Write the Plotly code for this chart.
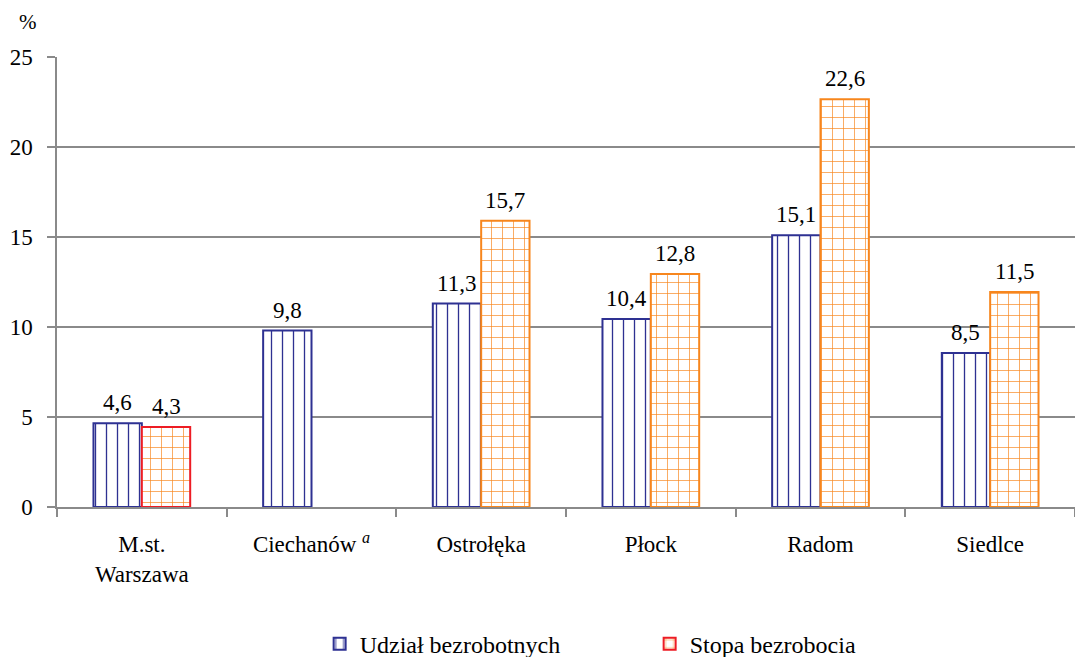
import plotly.graph_objects as go

categories = ["M.st.<br>Warszawa", "Ciechanów <sup><i>a</i></sup>", "Ostrołęka", "Płock", "Radom", "Siedlce"]
udzial_heights = [4.65, 9.8, 11.3, 10.45, 15.1, 8.55]
udzial_labels = ["4,6", "9,8", "11,3", "10,4", "15,1", "8,5"]
stopa_heights = [4.45, None, 15.9, 12.95, 22.65, 11.95]
stopa_labels = ["4,3", None, "15,7", "12,8", "22,6", "11,5"]

BLUE = "#2E3192"
ORANGE = "#F7861D"
RED = "#ED1C24"
GRID = "#8A8A8A"
FONT = "Liberation Serif, DejaVu Serif, serif"
BARGAP = 0.43

fig = go.Figure()
fig.add_trace(go.Bar(
    name="Udział bezrobotnych",
    x=categories, y=udzial_heights,
    marker=dict(
        color="white",
        line=dict(color=BLUE, width=2),
        pattern=dict(shape="|", fgcolor=BLUE, bgcolor="white", size=11, solidity=0.12, fillmode="replace"),
    ),
))
fig.add_trace(go.Bar(
    name="Stopa bezrobocia",
    x=categories, y=stopa_heights,
    marker=dict(
        color="white",
        line=dict(color=[RED, ORANGE, ORANGE, ORANGE, ORANGE, ORANGE], width=2),
        pattern=dict(shape="+", fgcolor=ORANGE, bgcolor="white", size=11, solidity=0.12, fillmode="replace"),
    ),
))

# value labels placed at the top of each bar (data coordinates on the category axis)
off = (1 - BARGAP) / 4
annotations = []
for series, heights, labels in ((0, udzial_heights, udzial_labels), (1, stopa_heights, stopa_labels)):
    for i, (h, lab) in enumerate(zip(heights, labels)):
        if h is None or lab is None:
            continue
        annotations.append(dict(
            x=i + (-off if series == 0 else off), y=h, xref="x", yref="y",
            text=lab, showarrow=False, xanchor="center", yanchor="bottom", yshift=6,
            font=dict(family=FONT, size=23, color="black"),
        ))
annotations.append(dict(text="%", showarrow=False, xref="paper", yref="paper",
                        x=(28 - 57) / 1018, y=(507 - 22) / 450, xanchor="center", yanchor="middle",
                        font=dict(family=FONT, size=21, color="black")))

fig.update_layout(
    width=1075, height=657,
    margin=dict(l=57, r=0, t=57, b=150, autoexpand=False),
    plot_bgcolor="white", paper_bgcolor="white",
    barmode="group", bargap=BARGAP, bargroupgap=0,
    font=dict(family=FONT, size=23, color="black"),
    showlegend=True,
    legend=dict(
        orientation="h", x=0.258, y=-0.305, xanchor="left", yanchor="middle",
        font=dict(family=FONT, size=24, color="black"),
        entrywidth=285, entrywidthmode="pixels",
        traceorder="normal",
    ),
    annotations=annotations,
)

fig.update_yaxes(
    range=[0, 25], dtick=5, showgrid=True, gridcolor=GRID, gridwidth=1.5,
    showline=True, linecolor=GRID, linewidth=1.5,
    ticks="outside", ticklen=8, tickcolor=GRID, tickwidth=1.5,
    tickfont=dict(family=FONT, size=23, color="black"),
    ticklabelstandoff=10,
    zeroline=False, automargin=False,
)
fig.update_xaxes(
    showline=True, linecolor=GRID, linewidth=1.5,
    ticks="outside", tickson="boundaries", ticklen=8, tickcolor=GRID, tickwidth=1.5,
    tickfont=dict(family=FONT, size=23, color="black"),
    ticklabelstandoff=16,
    showgrid=False, automargin=False,
)

fig.write_html("out.html", config={"displayModeBar": False},
               post_script="document.body.style.margin='0';document.body.style.overflow='hidden';")
